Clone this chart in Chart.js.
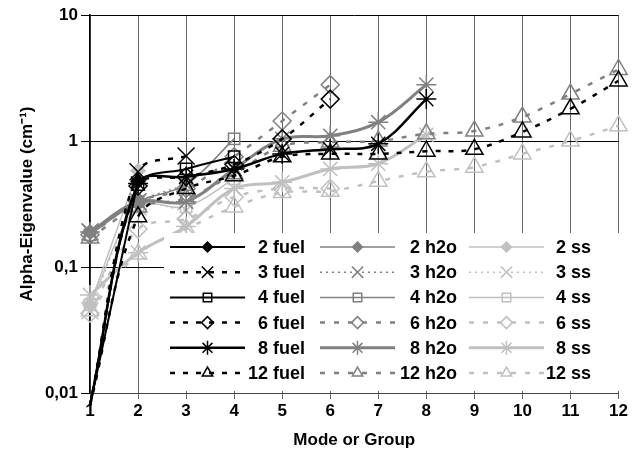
<!DOCTYPE html>
<html>
<head>
<meta charset="utf-8">
<script src="https://cdn.jsdelivr.net/npm/chart.js@4/dist/chart.umd.min.js"></script>
<style>
  body { margin: 0; background: #fff; }
  canvas { display: block; }
</style>
</head>
<body>
<canvas id="myChart" width="632" height="466"></canvas>
<script>
// x categories and y tick values
const modes = ['1', '2', '3', '4', '5', '6', '7', '8', '9', '10', '11', '12'];
const yTicks = [0.01, 0.1, 1, 10];

// fuel series (values per mode)
const fuel2 = [0.008, 0.48];
const fuel3 = [0.008, 0.57, 0.76];
const fuel4 = [0.008, 0.45, 0.6, 0.75];
const fuel6 = [0.008, 0.44, 0.52, 0.65, 1.04, 2.15];
const fuel8 = [0.008, 0.46, 0.52, 0.6, 0.79, 0.86, 0.95, 2.15];
const fuel12 = [0.008, 0.25, 0.42, 0.53, 0.75, 0.79, 0.79, 0.83, 0.86, 1.18, 1.8, 3.0];

// h2o series
const h2o2 = [0.19, 0.33];
const h2o3 = [0.19, 0.33, 0.45];
const h2o4 = [0.18, 0.33, 0.45, 1.04];
const h2o6 = [0.18, 0.33, 0.42, 0.75, 1.44, 2.8];
const h2o8 = [0.19, 0.33, 0.33, 0.6, 1.04, 1.1, 1.41, 2.8];
const h2o12 = [0.17, 0.3, 0.35, 0.55, 0.91, 0.98, 1.0, 1.14, 1.2, 1.55, 2.36, 3.7];

// ss series
const ss2 = [0.05, 0.58];
const ss3 = [0.045, 0.3, 0.28];
const ss4 = [0.05, 0.3, 0.3, 0.5];
const ss6 = [0.043, 0.2, 0.24, 0.36, 0.42, 0.42];
const ss8 = [0.06, 0.13, 0.21, 0.42, 0.47, 0.6, 0.66, 1.12];
const ss12 = [0.045, 0.127, 0.2, 0.3, 0.39, 0.4, 0.48, 0.57, 0.62, 0.79, 1.0, 1.32];

const groups = ['2', '3', '4', '6', '8', '12'];
const materials = ['fuel', 'h2o', 'ss'];
const seriesData = {
    fuel: [fuel2, fuel3, fuel4, fuel6, fuel8, fuel12],
    h2o: [h2o2, h2o3, h2o4, h2o6, h2o8, h2o12],
    ss: [ss2, ss3, ss4, ss6, ss8, ss12]
};

const colors = { fuel: '#000000', h2o: '#808080', ss: '#c0c0c0' };
const markers = ['rectRot', 'crossRot', 'rect', 'rectRot', 'star', 'triangle'];
const markerSize = [7, 12, 8, 9, 10, 10];
const legendSize = [5, 8, 6, 6, 7, 6];

// line style per group & material
function lineStyle(mat, g) {
    if (mat === 'fuel') {
        if (g === 1 || g === 3 || g === 5) return { w: 2.5, dash: [5, 8] };
        if (g === 4) return { w: 2.5, dash: [] };
        return { w: 2, dash: [] };
    }
    if (g === 1) return { w: 1.5, dash: [2, 4] };
    if (g === 3 || g === 5) return { w: 2.5, dash: [5, 9] };
    if (g === 4) return { w: 3, dash: [] };
    return { w: 1.5, dash: [] };
}

const datasets = [];
materials.forEach(mat => {
    groups.forEach((grp, g) => {
        const st = lineStyle(mat, g);
        datasets.push({
            label: grp + ' ' + mat,
            data: seriesData[mat][g],
            borderColor: colors[mat],
            borderWidth: st.w,
            borderDash: st.dash,
            tension: 0.35,
            clip: false,
            pointStyle: markers[g],
            pointRadius: c => (c.raw < 0.01 ? 0 : markerSize[g]),
            pointBorderWidth: 1.5,
            pointBorderColor: colors[mat],
            pointBackgroundColor: g === 0 ? colors[mat] : 'rgba(0,0,0,0)'
        });
    });
});

const fontFam = '"Liberation Sans", Arial, sans-serif';

// legend inside the plot: 3 columns (fuel, h2o, ss) x 6 rows (groups)
const boxLegend = {
    id: 'boxLegend',
    afterDraw(chart) {
        const c = chart.ctx;
        const lineX = [170, 320, 469];
        const textX = [305, 457, 591];
        c.save();
        c.fillStyle = '#fff';
        c.fillRect(164, 233, 455, 158);
        c.font = 'bold 18px ' + fontFam;
        c.textAlign = 'right';
        c.textBaseline = 'middle';
        for (let col = 0; col < 3; col++) {
            for (let row = 0; row < 6; row++) {
                const ds = chart.data.datasets[col * 6 + row];
                const y = 247 + row * 25.2;
                c.strokeStyle = ds.borderColor;
                c.lineWidth = ds.borderWidth;
                c.setLineDash(ds.borderDash);
                c.beginPath();
                c.moveTo(lineX[col], y);
                c.lineTo(lineX[col] + 75, y);
                c.stroke();
                c.setLineDash([]);
                c.fillStyle = ds.pointBackgroundColor;
                c.lineWidth = 1.5;
                Chart.helpers.drawPoint(c, {
                    pointStyle: ds.pointStyle,
                    radius: legendSize[row],
                    rotation: 0,
                    borderWidth: 1.5
                }, lineX[col] + 37.5, y);
                c.fillStyle = '#000';
                c.fillText(ds.label, textX[col], y + 1);
            }
        }
        c.restore();
    }
};

const ctx = document.getElementById('myChart');
new Chart(ctx, {
    type: 'line',
    data: { labels: modes, datasets: datasets },
    options: {
        responsive: false,
        animation: false,
        layout: { padding: { top: 15, right: 12, left: 0, bottom: 0 } },
        plugins: { legend: { display: false }, tooltip: { enabled: false } },
        scales: {
            x: {
                type: 'category',
                offset: false,
                grid: { color: '#666', lineWidth: 1, tickLength: 6, offset: false },
                border: { color: '#444', width: 1 },
                ticks: { color: '#000', font: { family: fontFam, size: 17, weight: 'bold' }, padding: 2, maxRotation: 0 },
                title: {
                    display: true, text: 'Mode or Group', color: '#000',
                    font: { family: fontFam, size: 17, weight: 'bold' },
                    padding: { top: 4, bottom: 15 }
                },
                afterFit: s => { s.height = 73; }
            },
            y: {
                type: 'logarithmic',
                min: 0.01,
                max: 10,
                afterBuildTicks: s => { s.ticks = yTicks.map(v => ({ value: v })); },
                grid: { color: '#000', lineWidth: 1, tickLength: 9 },
                border: { color: '#000', width: 1.5 },
                ticks: {
                    color: '#000', padding: 3,
                    font: { family: fontFam, size: 17, weight: 'bold' },
                    callback: v => String(v).replace('.', ',')
                },
                title: {
                    display: true, text: 'Alpha-Eigenvalue (cm⁻¹)', color: '#000',
                    font: { family: fontFam, size: 17, weight: 'bold' },
                    padding: { top: 17, bottom: 0 }
                },
                afterFit: s => { s.width = 90; }
            }
        }
    },
    plugins: [boxLegend]
});
</script>
</body>
</html>
